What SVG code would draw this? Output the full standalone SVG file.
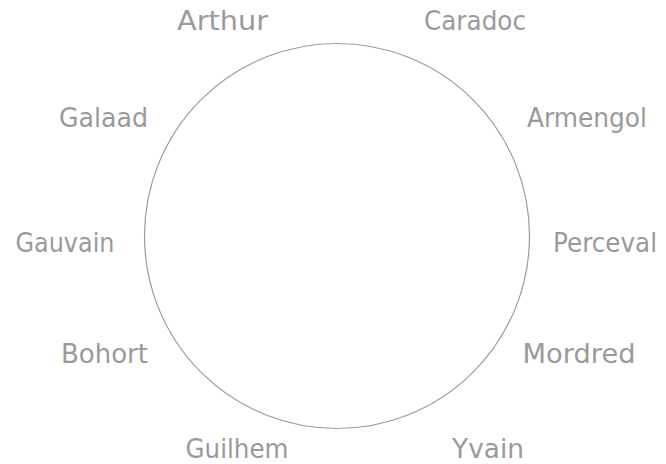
<svg xmlns="http://www.w3.org/2000/svg" width="666" height="464" viewBox="0 0 666 464">
<style>
.lbl{font-family:"DejaVu Sans","Liberation Sans",sans-serif;font-size:26px;fill:#9a9a9a;text-anchor:middle}
.ring{fill:none;stroke:#9a9a9a;stroke-width:1.2}
</style>
<rect width="666" height="464" fill="#ffffff"/>
<g id="connectors">
<circle class="ring" cx="337" cy="236" r="192.5"/>
</g>
<g id="arthur"><text class="lbl" x="222.5" y="29.5" textLength="91" lengthAdjust="spacingAndGlyphs">Arthur</text></g>
<g id="caradoc"><text class="lbl" x="475" y="29.5" textLength="102" lengthAdjust="spacingAndGlyphs">Caradoc</text></g>
<g id="galaad"><text class="lbl" x="103.5" y="126.5" textLength="89" lengthAdjust="spacingAndGlyphs">Galaad</text></g>
<g id="armengol"><text class="lbl" x="587" y="126.5" textLength="120" lengthAdjust="spacingAndGlyphs">Armengol</text></g>
<g id="gauvain"><text class="lbl" x="65" y="252" textLength="99" lengthAdjust="spacingAndGlyphs">Gauvain</text></g>
<g id="perceval"><text class="lbl" x="605" y="252" textLength="104" lengthAdjust="spacingAndGlyphs">Perceval</text></g>
<g id="bohort"><text class="lbl" x="104.5" y="363" textLength="87" lengthAdjust="spacingAndGlyphs">Bohort</text></g>
<g id="mordred"><text class="lbl" x="579" y="363" textLength="113" lengthAdjust="spacingAndGlyphs">Mordred</text></g>
<g id="guilhem"><text class="lbl" x="237" y="458" textLength="103" lengthAdjust="spacingAndGlyphs">Guilhem</text></g>
<g id="yvain"><text class="lbl" x="488" y="458" textLength="72" lengthAdjust="spacingAndGlyphs">Yvain</text></g>
</svg>
